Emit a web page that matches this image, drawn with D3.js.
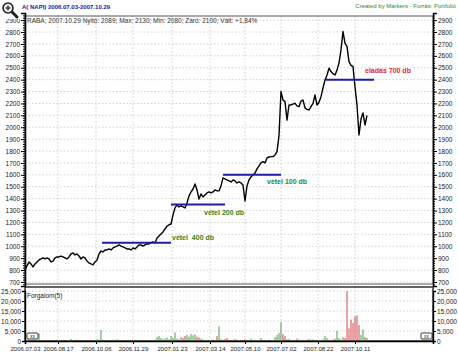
<!DOCTYPE html>
<html><head><meta charset="utf-8">
<script src="https://cdn.jsdelivr.net/npm/d3@7"></script>
<style>
body{margin:0;background:#fff}
svg{display:block}
text{font-family:"Liberation Sans",Arial,sans-serif}
</style>
</head><body>
<svg id="c" width="458" height="356"></svg>
<script>
// ---- data (one sample every two trading days) ----
const closes = [
 800, 835, 868, 851, 826, 851, 868, 885, 893, 902,
 893, 902, 893, 868, 876, 902, 910, 910, 918, 910,
 902, 893, 910, 935, 944, 927, 935, 918, 893, 910,
 902, 876, 860, 851, 843, 868, 885, 935, 960, 952,
 969, 969, 977, 969, 986, 994, 1002, 1011, 1002, 994,
 986, 977, 977, 969, 986, 977, 994, 1011, 1011, 1002,
 1011, 1019, 1019, 1028, 1036, 1028, 1070, 1087, 1103, 1120,
 1145, 1170, 1179, 1187, 1263, 1322, 1347, 1330, 1339, 1330,
 1322, 1364, 1423, 1456, 1481, 1524, 1473, 1397, 1440, 1414,
 1431, 1448, 1456, 1448, 1456, 1473, 1465, 1465, 1507, 1574,
 1566, 1557, 1549, 1540, 1557, 1549, 1532, 1540, 1532, 1515,
 1380, 1507, 1557, 1582, 1600, 1616, 1650, 1675, 1700, 1711,
 1700, 1742, 1750, 1753, 1753, 1767, 1795, 1930, 2300, 2229,
 2215, 2060, 2187, 2187, 2195, 2202, 2180, 2173, 2220, 2229,
 2162, 2150, 2145, 2173, 2200, 2271, 2187, 2210, 2257, 2330,
 2397, 2439, 2496, 2468, 2450, 2439, 2480, 2540, 2650, 2804,
 2706, 2678, 2551, 2520, 2509, 2341, 2187, 1935, 2070, 2120,
 2019, 2100
];
const volumes = [
 400, 600, 300, 500, 200, 700, 500, 3800, 300, 200,
 400, 150, 300, 200, 250, 400, 200, 300, 150, 250,
 200, 300, 400, 1000, 300, 200, 700, 300, 200, 400,
 300, 200, 500, 300, 400, 600, 800, 400, 5500, 600,
 400, 300, 500, 200, 600, 400, 900, 300, 200, 400,
 300, 200, 300, 200, 400, 300, 500, 300, 200, 400,
 300, 200, 400, 300, 500, 600, 2000, 2500, 1500, 900,
 1200, 1800, 800, 2500, 1500, 4300, 1200, 800, 2000, 1500,
 2500, 3000, 2200, 3500, 2800, 3300, 2200, 1800, 1200, 600,
 400, 300, 500, 400, 700, 500, 2500, 7300, 800, 600,
 1000, 1500, 400, 300, 600, 1000, 300, 400, 500, 300,
 800, 400, 300, 1200, 500, 300, 400, 600, 1500, 400,
 300, 500, 700, 300, 400, 2000, 3000, 4000, 9300, 3500,
 2500, 800, 1000, 500, 400, 300, 1200, 600, 400, 300,
 500, 400, 1000, 600, 800, 400, 300, 500, 400, 800,
 2500, 1500, 600, 400, 700, 1200, 5000, 1500, 800, 2000,
 1500, 26000, 6300, 10800, 9000, 12300, 12800, 8000, 3000, 5800,
 2000, 1500
];
const tickIdx = [0, 16.5, 35.5, 54, 73.5, 92.5, 110, 128, 146.5, 165];
const tickLabels = ["2006.07.03","2006.08.17","2006.10.06","2006.11.29","2007.01.23","2007.03.14","2007.05.10","2007.07.02","2007.08.22","2007.10.11"];
const priceTicks = [700,800,900,1000,1100,1200,1300,1400,1500,1600,1700,1800,1900,2000,2100,2200,2300,2400,2500,2600,2700,2800,2900];
const volTicks = [0, 5000, 10000, 15000, 20000, 25000];
const signalFrom = [38.5, 73, 99, 150.5];
const signalTo = [73, 100, 128, 174.5];
const signalPrice = [1030, 1350, 1600, 2400];
const signalText = ["vétel\u00a0 400 db", "vétel 200 db", "vétel 100 db", "eladás 700 db"];
const signalTextIdx = [73.5, 89.5, 121, 170];
const signalTextPrice = [1070, 1280, 1540, 2473];
const signalSell = [false, false, false, true];

// ---- layout ----
const L = 25, R = 433, mainTop = 16, mainBot = 284, volTop = 287, volBot = 341;
const svg = d3.select("#c");
const x = d3.scaleLinear().domain([0, 204]).range([L, R]);
const y = d3.scaleLinear().domain([666, 2960]).range([286, 13]);
const yv = d3.scaleLinear().domain([0, 25000]).range([volBot, 291]);

const gridCol = "#c4c4c4";
const grid = svg.append("g").attr("stroke", gridCol).attr("stroke-dasharray", "1.5,2").attr("stroke-width", 0.8);
priceTicks.forEach(p => {
  if (y(p) > mainTop + 1 && y(p) < mainBot)
    grid.append("line").attr("x1", L).attr("x2", R).attr("y1", y(p)).attr("y2", y(p));
});
volTicks.forEach(v => {
  if (v > 0) grid.append("line").attr("x1", L).attr("x2", R).attr("y1", yv(v)).attr("y2", yv(v));
});
tickIdx.forEach(t => {
  if (t > 0) {
    grid.append("line").attr("x1", x(t)).attr("x2", x(t)).attr("y1", mainTop).attr("y2", mainBot);
    grid.append("line").attr("x1", x(t)).attr("x2", x(t)).attr("y1", volTop).attr("y2", volBot);
  }
});

// frames
svg.append("rect").attr("x", L).attr("y", mainTop).attr("width", R - L).attr("height", mainBot - mainTop)
  .attr("fill", "none").attr("stroke", "#555").attr("stroke-width", 1);
svg.append("rect").attr("x", L).attr("y", volTop).attr("width", R - L).attr("height", volBot - volTop)
  .attr("fill", "none").attr("stroke", "#333").attr("stroke-width", 1.5);

// volume bars
svg.append("g").selectAll("rect").data(volumes).join("rect")
  .attr("x", (d, i) => x(i) - 0.5)
  .attr("width", 1)
  .attr("y", d => yv(Math.min(d, 25000)))
  .attr("height", d => volBot - yv(Math.min(d, 25000)))
  .attr("fill", (d, i) => (i > 0 && closes[i] < closes[i - 1]) ? "#d24a4a" : "#4aa04a");

// price line
svg.append("path").datum(closes)
  .attr("d", d3.line().x((d, i) => x(i)).y(d => y(d)))
  .attr("fill", "none").attr("stroke", "#000").attr("stroke-width", 1.4).attr("stroke-linejoin", "round");

// signal lines
signalPrice.forEach((p, k) => {
  svg.append("line").attr("x1", x(signalFrom[k])).attr("x2", x(signalTo[k]))
    .attr("y1", y(p)).attr("y2", y(p)).attr("stroke", "#1c1ca8").attr("stroke-width", 2);
  svg.append("text").attr("x", x(signalTextIdx[k])).attr("y", y(signalTextPrice[k]))
    .attr("dy", "0.35em").attr("font-size", 7).attr("font-weight", "bold")
    .attr("fill", signalSell[k] ? "#dd2a2a" : "#2a8a2a").style("white-space", "pre")
    .text(signalText[k]);
});

// axes
function styleAxis(g, lw, fs) {
  g.selectAll("text").attr("font-size", fs || 6.5).attr("fill", "#222").attr("font-family", "Liberation Sans, Arial, sans-serif");
  g.select(".domain").attr("stroke", "#000").attr("stroke-width", lw);
  g.selectAll(".tick line").attr("stroke", "#000");
}
const minorTicks = d3.range(680, 2960, 20);
const la = svg.append("g").attr("transform", `translate(${L},0)`)
  .call(d3.axisLeft(y).tickValues(priceTicks).tickSize(4).tickPadding(1).tickFormat(d3.format("d")));
styleAxis(la, 1.6);
svg.append("g").attr("transform", `translate(${L},0)`)
  .call(d3.axisLeft(y).tickValues(minorTicks).tickSize(2).tickFormat(""))
  .call(g => { g.select(".domain").remove(); g.selectAll("line").attr("stroke", "#000"); });
const ra = svg.append("g").attr("transform", `translate(${R},0)`)
  .call(d3.axisRight(y).tickValues(priceTicks).tickSize(4).tickPadding(1).tickFormat(d3.format("d")));
styleAxis(ra, 1.4);
svg.append("g").attr("transform", `translate(${R},0)`)
  .call(d3.axisRight(y).tickValues(minorTicks).tickSize(2).tickFormat(""))
  .call(g => { g.select(".domain").remove(); g.selectAll("line").attr("stroke", "#000"); });

const vla = svg.append("g").attr("transform", `translate(${L},0)`)
  .call(d3.axisLeft(yv).tickValues(volTicks).tickSize(3).tickPadding(1).tickFormat(d3.format(",")));
styleAxis(vla, 1.4);
const vra = svg.append("g").attr("transform", `translate(${R},0)`)
  .call(d3.axisRight(yv).tickValues(volTicks).tickSize(3).tickPadding(1).tickFormat(d3.format(",")));
styleAxis(vra, 1.4);

const ba = svg.append("g").attr("transform", `translate(0,${volBot})`)
  .call(d3.axisBottom(x).tickValues(tickIdx).tickSize(3).tickPadding(3).tickFormat((d, i) => tickLabels[i]));
styleAxis(ba, 1.6, 6);

// small scroll buttons
[[27, 333], [421, 333]].forEach(([bx, by]) => {
  svg.append("rect").attr("x", bx).attr("y", by).attr("width", 11).attr("height", 6).attr("rx", 1)
    .attr("fill", "#fff").attr("stroke", "#222").attr("stroke-width", 0.9);
  svg.append("text").attr("x", bx + 5.5).attr("y", by + 5).attr("text-anchor", "middle")
    .attr("font-size", 5).attr("fill", "#222").text("xx");
});

// texts
svg.append("text").attr("x", 27).attr("y", 23).attr("font-size", 6.5).attr("fill", "#333")
  .text("RABA; 2007.10.29 Nyitó: 2089; Max: 2130; Min: 2080; Záró: 2100; Vált: +1,84%");
svg.append("text").attr("x", 27).attr("y", 297.5).attr("font-size", 6.5).attr("fill", "#222")
  .text("Forgalom(5)");
svg.append("text").attr("x", 22).attr("y", 9).attr("font-size", 6).attr("font-weight", "bold").attr("fill", "#2020a0")
  .text("A( NAPI)  2006.07.03-2007.10.29");
svg.append("text").attr("x", 456).attr("y", 8).attr("text-anchor", "end").attr("font-size", 6).attr("fill", "#2a8a2a")
  .text("Created by Markers - Forrás: Portfolió");

// magnifier icon
const mg = svg.append("g");
mg.append("rect").attr("x", 0).attr("y", 0).attr("width", 20).attr("height", 19).attr("fill", "#fff");
mg.append("line").attr("x1", 11).attr("y1", 11).attr("x2", 17).attr("y2", 17).attr("stroke", "#222").attr("stroke-width", 3).attr("stroke-linecap", "round");
mg.append("circle").attr("cx", 8).attr("cy", 8).attr("r", 5).attr("fill", "#f2f2f2").attr("stroke", "#222").attr("stroke-width", 1.6);
mg.append("line").attr("x1", 5.5).attr("x2", 10.5).attr("y1", 8).attr("y2", 8).attr("stroke", "#222").attr("stroke-width", 1.3);
mg.append("line").attr("x1", 8).attr("x2", 8).attr("y1", 5.5).attr("y2", 10.5).attr("stroke", "#222").attr("stroke-width", 1.3);
</script>
</body></html>
